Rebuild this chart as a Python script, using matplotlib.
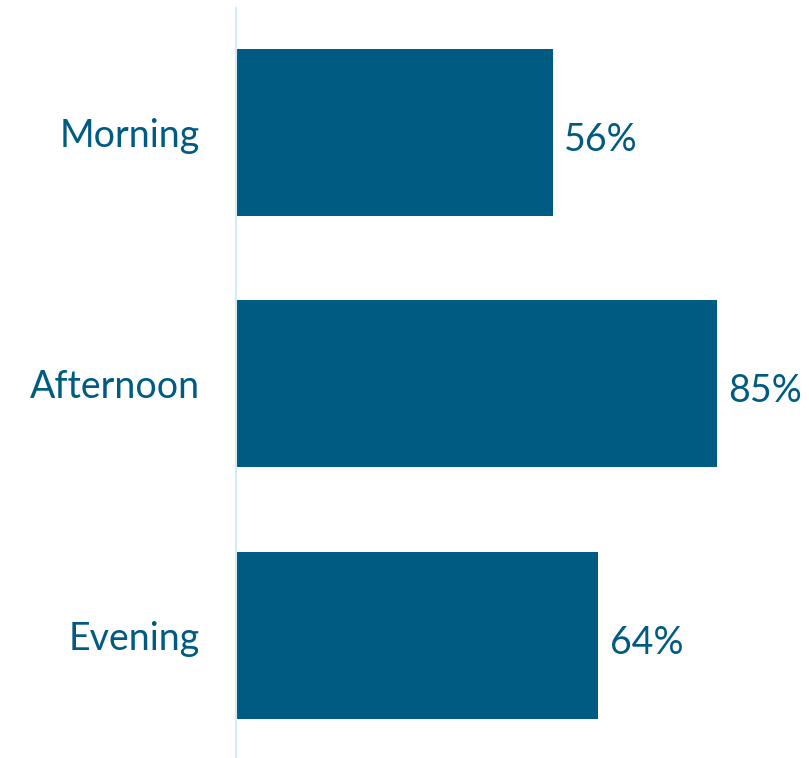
import matplotlib.pyplot as plt

categories = ["Morning", "Afternoon", "Evening"]
values = [56, 85, 64]
value_labels = ["56%", "85%", "64%"]

bar_color = "#005b82"
text_color = "#005b82"

plt.rcParams['font.family'] = ['Lato', 'DejaVu Sans']

fig = plt.figure(figsize=(8.09, 7.58), dpi=100)
ax = fig.add_axes([236 / 809, 1 - 757 / 758, 566 / 809, 749 / 758])

y = list(range(len(categories)))
ax.barh(y, values, height=0.664, color=bar_color)

for yi, v, lab in zip(y, values, value_labels):
    ax.text(v + 2.0, yi + 0.03, lab, va="center", ha="left",
            fontsize=27, color=text_color, fontweight="normal")

ax.set_xlim(0, 100)
ax.set_ylim(2.485, -0.495)
ax.set_yticks(y)
ax.set_yticklabels(categories, fontsize=27, color=text_color, fontweight="normal")
ax.tick_params(axis="y", length=0, pad=26)
ax.set_xticks([])

for s in ["top", "right", "bottom"]:
    ax.spines[s].set_visible(False)
ax.spines["left"].set_color("#d4ebf7")
ax.spines["left"].set_linewidth(1.5)

fig.savefig("out.png", dpi=100)
